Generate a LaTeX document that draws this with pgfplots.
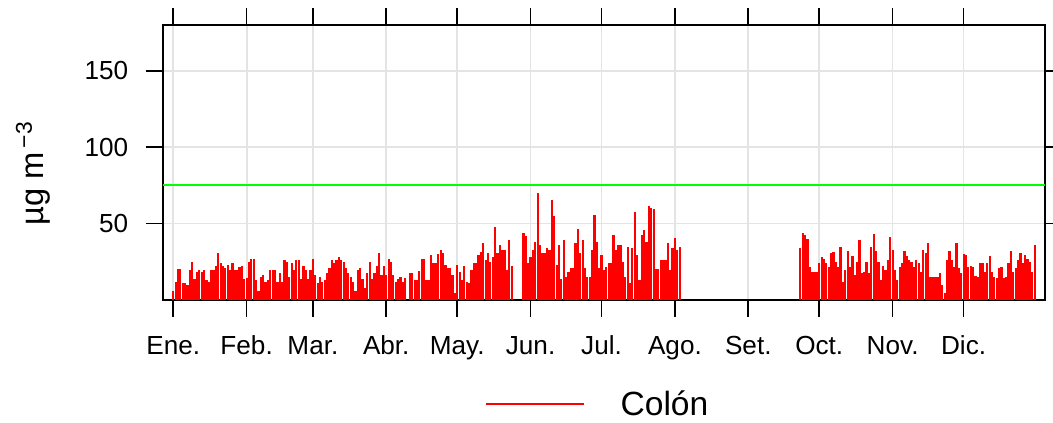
\documentclass[border=0pt]{standalone}
\usepackage{pgfplots}
\pgfplotsset{compat=1.18}
\usepackage{pgfplotstable}
\usepackage{fontspec}
\setmainfont{Liberation Sans}
\definecolor{pmred}{RGB}{255,0,0}
\definecolor{limegreen}{RGB}{0,255,0}
\definecolor{gridgray}{RGB}{228,228,228}

\pgfplotstableread{
d v
0 5.7
1 12
2 20
3 20
4 10.8
5 11.4
6 9.8
7 19.6
8 25
9 14
10 18.5
11 19.6
12 18.5
13 19.6
14 13
15 12
16 19.6
17 19.6
18 22
19 30.5
20 24
21 22
22 21
23 23
24 19.6
25 24
26 19.6
27 19.6
28 21.3
29 22
30 13.5
31 14.6
32 25
33 27
34 27
35 13
36 6
37 15
38 16.3
39 12
40 13
41 19.6
42 19.6
43 19.6
44 12
45 17.4
46 12
47 26
48 25
49 15
50 24
51 19.6
52 26
53 26
54 14
55 22
56 19.6
57 14
58 19.6
59 27
60 16.3
61 11
62 15
63 12
64 13
65 17.4
66 21
67 26
68 24.4
69 26.5
70 28
71 26.5
72 25
73 21
74 17.4
75 15
76 12
77 6
78 19.6
79 21
80 14
81 7.6
82 17.4
83 25
84 14
85 17.4
86 22
87 30.5
88 16.3
89 22
90 16.3
91 27
92 25
93 16.3
94 12
95 14
96 15
97 12
98 14.2
100 17.8
101 17.8
102 13
103 13
104 19
105 27
106 27
107 13
108 13
109 29.5
110 24
111 24
112 30
113 33
114 30.5
115 23
116 21
117 21
118 16.3
119 4.4
120 23
121 18.5
122 13
123 22
124 12
125 10.9
126 19.6
127 24
128 24
129 29.5
130 31.6
131 37.5
132 26
133 30.5
134 25
135 28
136 48
137 30.5
138 36
139 33
140 33
141 19.6
142 39.2
143 22
148 43.6
149 42
150 23.9
151 28
152 32.7
153 38
154 70
155 36
156 30.5
157 30.5
158 34
159 33
160 65.4
161 55
162 22.9
163 36
164 14
165 39
166 15
167 18.5
168 20.7
169 20.7
170 37
171 46.2
172 30.5
173 39
174 20.7
175 15.3
176 15.3
177 32.7
178 55.5
179 38
180 20.7
181 29.4
182 19.6
183 21.8
184 24
185 24
186 42.5
187 32.7
188 36
189 36
190 25
191 15
192 34.5
193 11
194 34
195 57.7
196 29.4
197 13
198 42.5
199 46
200 38
201 61.5
202 60
203 59.3
204 20
205 20
206 26
207 26
208 26
209 37.5
210 19.6
211 34
212 40.3
213 32.7
214 34.5
265 33.8
266 43.6
267 42.5
268 39.7
269 21.8
270 18.5
271 18.5
272 18.5
273 24
274 28.3
275 27
276 24
277 21.8
278 30.5
279 31.6
280 25
281 21.8
282 34.4
283 12
284 19.6
285 32
286 21.8
287 28.8
288 16.3
289 25
290 39.2
291 17.4
292 18.5
293 25
294 17.4
295 34.8
296 43
297 32
298 25
299 13
300 22
301 19.6
302 26
303 41.4
304 32.7
305 19.6
306 13
307 21.8
308 24
309 32
310 28.8
311 26
312 25
313 21.8
314 26
315 24
316 18.5
317 33
318 31
319 37
320 15.3
321 15.3
322 15.3
323 15.3
324 17.4
325 9.8
326 4.4
327 26
328 32
329 26.5
330 21.8
331 37
332 20.7
333 17.4
334 30
335 29.4
336 21.8
337 22
338 21.8
339 15.7
340 15.3
341 24
342 24
343 18.5
344 24
345 28.8
346 18.5
347 15.3
348 14.2
349 20.7
350 21.3
351 14.2
352 15.3
353 24
354 32
355 18.5
356 20.7
357 26
358 31
359 24
360 29.4
361 27
362 25
363 18.5
364 36
}\colondata

\pgfplotstableread{
d v
-4.35 75
368.4 75
}\limitdata

\begin{document}
\begin{tikzpicture}
\useasboundingbox (-122.25pt,-92.25pt) rectangle (667.5pt,225pt);
\begin{axis}[
  at={(0pt,0pt)}, anchor=south west,
  scale only axis,
  width=661.5pt, height=206.25pt,
  xmin=-4.35, xmax=368.4,
  ymin=0, ymax=180,
  xtick={0,31,59,90,120,151,181,212,243,273,304,334},
  xticklabels={Ene.,Feb.,Mar.,Abr.,May.,Jun.,Jul.,Ago.,Set.,Oct.,Nov.,Dic.},
  ytick={50,100,150},
  tick pos=both,
  tick align=outside,
  xticklabel pos=lower,
  yticklabel pos=left,
  major tick length=12.75pt,
  every tick/.style={black, line width=1.2pt},
  axis line style={black, line width=1.2pt},
  grid=major,
  major grid style={gridgray, line width=1.3pt},
  /pgf/number format/assume math mode=true,
  tick label style={font=\fontsize{19.6}{23}\selectfont},
  xticklabel style={yshift=-10.5pt, text height=14.3pt, text depth=4pt},
  yticklabel style={xshift=-9.75pt},
  ylabel={µg m\textsuperscript{\,−3}},
  every axis y label/.append style={at={(axis description cs:-0.1470,0.46)}, anchor=center, font=\fontsize{24.5}{28}\selectfont},
  legend style={at={(axis description cs:0.3605,0)}, anchor=north west, yshift=-63.75pt, draw=none, fill=none,
    font=\fontsize{25.2}{29}\selectfont},
  legend image code/.code={\draw[pmred, line width=1.5pt] (0pt,0pt) -- (73pt,0pt); \path[draw=none] (0pt,0pt) -- (98.75pt,0pt);},
]
\addplot[draw=limegreen, color=limegreen, line width=1.5pt, forget plot] table[x=d, y=v] {\limitdata};
\addplot[ycomb, draw=pmred, color=pmred, line width=1.65pt] table[x=d, y=v] {\colondata};
\addlegendentry{Colón}
\end{axis}
\end{tikzpicture}
\end{document}
